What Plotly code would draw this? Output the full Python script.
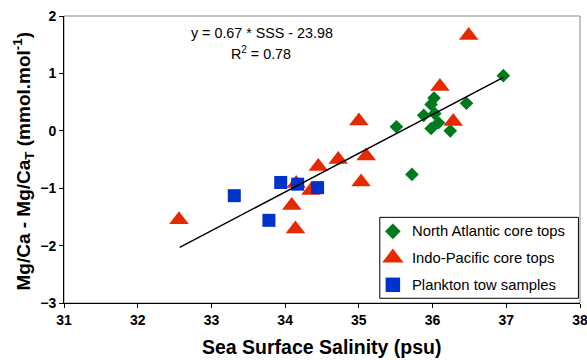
import plotly.graph_objects as go

# North Atlantic core tops
na_sss = [35.51, 35.72, 35.88, 35.98, 36.02, 36.03, 36.08, 35.98, 36.24, 36.46, 36.96]
na_mg = [0.07, -0.76, 0.27, 0.46, 0.57, 0.30, 0.14, 0.04, 0.00, 0.48, 0.96]

# Indo-Pacific core tops
ip_sss = [32.56, 34.09, 34.14, 34.15, 34.35, 34.45, 34.72, 35.00, 35.03, 35.10, 36.10, 36.28, 36.49]
ip_mg = [-1.55, -1.30, -1.71, -0.92, -1.04, -0.62, -0.50, 0.17, -0.89, -0.44, 0.77, 0.16, 1.66]

# Plankton tow samples
pt_sss = [33.31, 33.78, 33.94, 34.17, 34.44]
pt_mg = [-1.13, -1.56, -0.90, -0.93, -0.99]

# Regression line (as drawn)
fit_x = [32.57, 36.96]
fit_y = [-2.03, 0.93]

x_ticks = [31, 32, 33, 34, 35, 36, 37, 38]
y_ticks = [-3, -2, -1, 0, 1, 2]

series_names = ["North Atlantic core tops", "Indo-Pacific core tops", "Plankton tow samples"]
series_colors = ["#007a1e", "#e62a00", "#0033cc"]
series_symbols = ["diamond", "triangle-up", "square"]
series_sizes = [10.5, 17, 13]

FONT = "Liberation Sans, Arial, Helvetica, sans-serif"

fig = go.Figure()
data = [(na_sss, na_mg), (ip_sss, ip_mg), (pt_sss, pt_mg)]
for (xs, ys), name, col, sym, sz in zip(data, series_names, series_colors, series_symbols, series_sizes):
    fig.add_trace(go.Scatter(
        x=xs, y=ys, mode="markers", name=name, showlegend=False,
        marker=dict(symbol=sym, size=sz, color=col, line=dict(width=0))))

fig.add_trace(go.Scatter(
    x=fit_x, y=fit_y, mode="lines", showlegend=False,
    line=dict(color="black", width=1.5)))

# custom legend (paper-fraction overlay axes)
leg_x_marker = 0.6373
leg_x_text = 0.6702
leg_y = [0.2497, 0.1574, 0.0634]
fig.add_shape(type="rect", xref="paper", yref="paper", x0=0.612, y0=0.0164, x1=0.997, y1=0.2984,
              line=dict(color="black", width=1), fillcolor="white", layer="below")
for name, col, sym, sz, ly in zip(series_names, series_colors, series_symbols, series_sizes, leg_y):
    fig.add_trace(go.Scatter(
        x=[leg_x_marker], y=[ly], xaxis="x2", yaxis="y2", mode="markers",
        showlegend=False, hoverinfo="skip",
        marker=dict(symbol=sym, size=sz + 1.5, color=col, line=dict(width=0))))
    fig.add_annotation(x=leg_x_text, y=ly, xref="paper", yref="paper",
                       xanchor="left", yanchor="middle", text=name, showarrow=False,
                       font=dict(family=FONT, size=14.8, color="black"))

# equation
fig.add_annotation(x=0.384, y=0.94, xref="paper", yref="paper",
                   xanchor="center", yanchor="middle",
                   text="y = 0.67 * SSS - 23.98", showarrow=False,
                   font=dict(family=FONT, size=14.3, color="black"))
fig.add_annotation(x=0.382, y=0.87, xref="paper", yref="paper",
                   xanchor="center", yanchor="middle",
                   text="R<sup>2</sup> = 0.78", showarrow=False,
                   font=dict(family=FONT, size=14.3, color="black"))

# axis titles
fig.add_annotation(x=0.5, y=-0.154, xref="paper", yref="paper",
                   xanchor="center", yanchor="middle",
                   text="<b>Sea Surface Salinity (psu)</b>", showarrow=False,
                   font=dict(family=FONT, size=19.5, color="black"))
fig.add_annotation(x=-0.0783, y=0.495, xref="paper", yref="paper",
                   xanchor="center", yanchor="middle", textangle=-90,
                   text="<b>Mg/Ca - Mg/Ca<sub>T</sub> (mmol.mol<sup>-1</sup>)</b>", showarrow=False,
                   font=dict(family=FONT, size=19, color="black"))

# gray frame (top/right)
fig.add_shape(type="rect", xref="paper", yref="paper", x0=0, y0=0, x1=1, y1=1,
              line=dict(color="#888888", width=1), layer="below")

fig.update_layout(
    width=587, height=360,
    margin=dict(l=63.5, r=6.5, t=15.5, b=57),
    paper_bgcolor="white", plot_bgcolor="white",
    font=dict(family=FONT, color="black"),
    showlegend=False,
    xaxis=dict(range=[31, 38], tickvals=x_ticks, showgrid=False, zeroline=False,
               automargin=False, ticklabeloverflow="allow",
               showline=True, linecolor="black", linewidth=1,
               ticks="outside", ticklen=4, tickcolor="black",
               tickfont=dict(family=FONT, size=14, weight="bold")),
    yaxis=dict(range=[-3, 2], tickvals=y_ticks, showgrid=False, zeroline=False,
               automargin=False,
               showline=True, linecolor="black", linewidth=1,
               ticks="outside", ticklen=4, tickcolor="black",
               tickfont=dict(family=FONT, size=14, weight="bold")),
    xaxis2=dict(range=[0, 1], overlaying="x", visible=False, fixedrange=True),
    yaxis2=dict(range=[0, 1], overlaying="y", visible=False, fixedrange=True),
)

fig.write_html("out.html",
               config={"displayModeBar": False},
               post_script="document.body.style.margin='0';document.body.style.overflow='hidden';")
